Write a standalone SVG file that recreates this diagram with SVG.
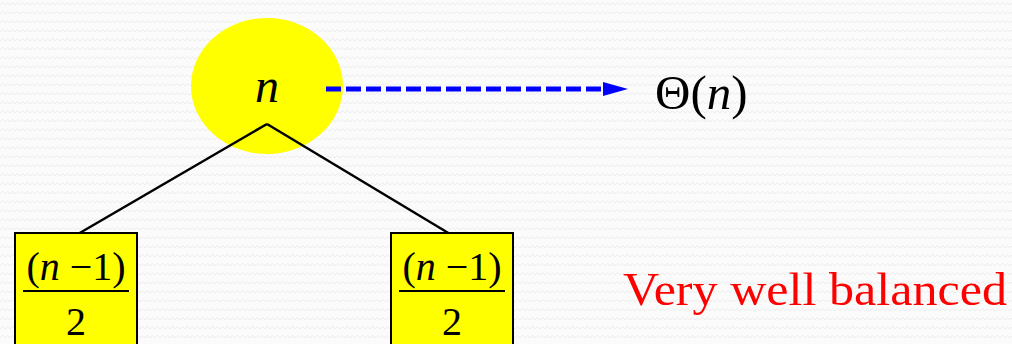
<svg xmlns="http://www.w3.org/2000/svg" width="1012" height="344" viewBox="0 0 1012 344">
<style>
.math{font-family:"Liberation Serif","Times New Roman",serif;fill:#000;}
.it{font-style:italic;}
.box{fill:#ffff00;stroke:#000;stroke-width:2;}
.edge{stroke:#000;stroke-width:2.5;fill:none;}
.frac{stroke:#000;stroke-width:2;}
</style>
<defs>
<pattern id="bg" width="10" height="9" patternUnits="userSpaceOnUse">
<path d="M0,5 L2.5,2.5 L5,5 L7.5,2.5 L10,5" fill="none" stroke="#ececec" stroke-width="1"/>
</pattern>
</defs>
<rect x="0" y="0" width="1012" height="344" fill="#fbfbfb"/>
<rect x="0" y="0" width="1012" height="344" fill="url(#bg)"/>
<g id="root">
<ellipse cx="267" cy="86" rx="76" ry="68" fill="#ffff00"/>
<text class="math it" x="267" y="102" font-size="48" text-anchor="middle">n</text>
</g>
<g id="connectors">
<line class="edge" x1="267" y1="124" x2="78" y2="234"/>
<line class="edge" x1="267" y1="124" x2="450" y2="234"/>
<line x1="326" y1="89" x2="604" y2="89" stroke="#0000ff" stroke-width="5" stroke-dasharray="15 5"/>
<path d="M603,82 L628,89 L603,96 Z" fill="#0000ff"/>
</g>
<g id="theta">
<text class="math" x="655" y="109" font-size="49">Θ(<tspan class="it">n</tspan>)</text>
</g>
<g id="left">
<rect class="box" x="15" y="233" width="122" height="120"/>
<text class="math" x="76" y="280" font-size="40" text-anchor="middle">(<tspan class="it">n</tspan> −1)</text>
<line class="frac" x1="23" y1="291" x2="129" y2="291"/>
<text class="math" x="76" y="335" font-size="40" text-anchor="middle">2</text>
</g>
<g id="right">
<rect class="box" x="391" y="233" width="122" height="120"/>
<text class="math" x="452" y="280" font-size="40" text-anchor="middle">(<tspan class="it">n</tspan> −1)</text>
<line class="frac" x1="399" y1="291" x2="505" y2="291"/>
<text class="math" x="452" y="335" font-size="40" text-anchor="middle">2</text>
</g>
<g id="label">
<text x="623" y="305" font-family="Liberation Serif, serif" font-size="46" fill="#ff0000" textLength="384" lengthAdjust="spacingAndGlyphs">Very well balanced</text>
</g>
</svg>
